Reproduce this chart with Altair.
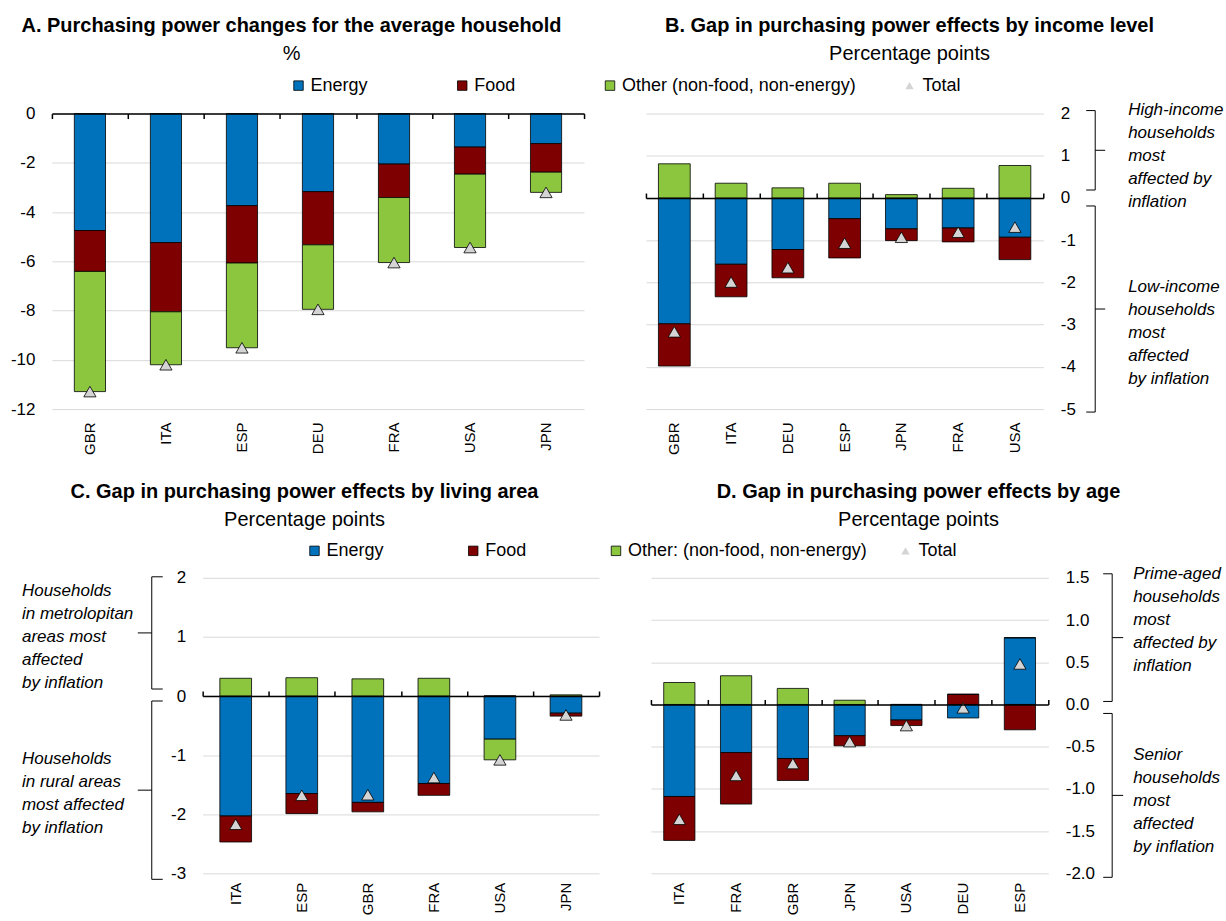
import altair as alt
import pandas as pd

FONT = "Liberation Sans, Arial, sans-serif"
GRID = "#D9D9D9"
TRI = "#D4D4D4"
COLORS = ["#0072BC", "#7F0000", "#8CC63F"]

LABELS_AB = ["Energy", "Food", "Other (non-food, non-energy)"]
LABELS_CD = ["Energy", "Food", "Other: (non-food, non-energy)"]

# Panel A: purchasing power changes for the average household (%)
A_COUNTRIES = ["GBR", "ITA", "ESP", "DEU", "FRA", "USA", "JPN"]
A_ENERGY = [-4.75, -5.24, -3.74, -3.17, -2.05, -1.36, -1.22]
A_FOOD = [-1.66, -2.81, -2.33, -2.16, -1.36, -1.10, -1.16]
A_OTHER = [-4.88, -2.15, -3.44, -2.62, -2.64, -2.98, -0.82]
A_TOTAL = [-11.29, -10.20, -9.51, -7.95, -6.05, -5.44, -3.20]
A_TICKS = [-12, -10, -8, -6, -4, -2, 0]

# Panel B: gap by income level (pp)
B_COUNTRIES = ["GBR", "ITA", "DEU", "ESP", "JPN", "FRA", "USA"]
B_ENERGY = [-2.98, -1.57, -1.22, -0.49, -0.73, -0.71, -0.93]
B_FOOD = [-1.00, -0.77, -0.67, -0.93, -0.28, -0.33, -0.53]
B_OTHER = [0.81, 0.35, 0.24, 0.35, 0.08, 0.23, 0.77]
B_TOTAL = [-3.17, -1.99, -1.65, -1.07, -0.93, -0.81, -0.69]
B_TICKS = [-5, -4, -3, -2, -1, 0, 1, 2]

# Panel C: gap by living area (pp)
C_COUNTRIES = ["ITA", "ESP", "GBR", "FRA", "USA", "JPN"]
C_ENERGY = [-2.03, -1.65, -1.80, -1.48, -0.73, -0.29]
C_FOOD = [-0.44, -0.34, -0.16, -0.20, 0.0, -0.05]
C_OTHER = [0.30, 0.31, 0.29, 0.30, -0.35, 0.02]
C_TOTAL = [-2.17, -1.68, -1.67, -1.38, -1.08, -0.32]
C_TICKS = [-3, -2, -1, 0, 1, 2]

# Panel D: gap by age (pp)
D_COUNTRIES = ["ITA", "FRA", "GBR", "JPN", "USA", "DEU", "ESP"]
D_ENERGY = [-1.09, -0.57, -0.64, -0.37, -0.185, -0.16, 0.79]
D_FOOD = [-0.52, -0.61, -0.26, -0.12, -0.065, 0.12, -0.30]
D_OTHER = [0.26, 0.34, 0.19, 0.05, 0.0, 0.0, 0.0]
D_TOTAL = [-1.36, -0.84, -0.70, -0.44, -0.25, -0.04, 0.48]
D_TICKS = [-2.0, -1.5, -1.0, -0.5, 0.0, 0.5, 1.0, 1.5]

B_NOTES = [["High-income", "households", "most", "affected by", "inflation"],
           ["Low-income", "households", "most", "affected", "by inflation"]]
C_NOTES = [["Households", "in metrolopitan", "areas most", "affected", "by inflation"],
           ["Households", "in rural areas", "most  affected", "by inflation"]]
D_NOTES = [["Prime-aged", "households", "most", "affected by", "inflation"],
           ["Senior", "households", "most", "affected", "by inflation"]]

LINE_H = 23


def long_frame(countries, energy, food, other, labels):
    rows = []
    for i, c in enumerate(countries):
        for k, vals in enumerate([energy, food, other]):
            rows.append({"country": c, "component": labels[k], "order": k, "value": vals[i]})
    return pd.DataFrame(rows)


DUMMY = pd.DataFrame({"_": [0]})


def rule(**kw):
    return alt.Chart(DUMMY).mark_rule(color="black", strokeWidth=1, **kw)


def bracket(top, bottom, top_off, bot_off, xv, xe, xn):
    mid = (top + bottom) / 2
    return [
        rule(yOffset=top_off, y2Offset=bot_off).encode(
            x=alt.value(xv), y=alt.YDatum(top, title=None), y2=alt.Y2Datum(bottom)),
        rule(yOffset=top_off).encode(
            x=alt.value(xe), x2=alt.value(xv), y=alt.YDatum(top, title=None)),
        rule(yOffset=bot_off).encode(
            x=alt.value(xe), x2=alt.value(xv), y=alt.YDatum(bottom, title=None)),
        rule(yOffset=(top_off + bot_off) / 2).encode(
            x=alt.value(xv), x2=alt.value(xn), y=alt.YDatum(mid, title=None)),
    ]


def note(lines, yval, xt):
    # centre the multi-line block on yval
    return alt.Chart(DUMMY).mark_text(
        align="left", baseline="middle", font=FONT, fontSize=17, fontStyle="italic",
        lineHeight=LINE_H, color="black", text=lines, dy=-(len(lines) - 1) * LINE_H / 2,
    ).encode(x=alt.value(xt), y=alt.YDatum(yval, title=None))


def panel(countries, energy, food, other, total, labels, width, height, domain, ticks, fmt,
          y_orient, band, title, subtitle, title_dx, title_off, zero_orient, color_legend,
          total_legend, extra_layers, xlab_pad):
    df = long_frame(countries, energy, food, other, labels)
    tf = pd.DataFrame({"country": countries, "value": total, "series": ["Total"] * len(countries)})
    xscale = alt.Scale(paddingInner=0, paddingOuter=0)
    yscale = alt.Scale(domain=domain, nice=False)
    yaxis = alt.Axis(orient=y_orient, values=ticks, title=None, domain=False,
                     labelExpr="replace(format(datum.value, '%s'), '\u2212', '-')" % fmt,
                     ticks=False, grid=True, gridColor=GRID, gridWidth=1, labelFont=FONT,
                     labelFontSize=17, labelColor="black", labelPadding=17)
    if zero_orient == "bottom":
        off = -height
    else:
        off = -height * domain[1] / (domain[1] - domain[0])
    bars = alt.Chart(df).mark_bar(stroke="black", strokeWidth=0.8, width={"band": band}).encode(
        x=alt.X("country:N", sort=countries, scale=xscale,
                axis=alt.Axis(title=None, orient="bottom", labelAngle=-90, domain=False, ticks=False,
                              grid=False, labelFont=FONT, labelFontSize=15, labelColor="black",
                              labelPadding=xlab_pad)),
        y=alt.Y("value:Q", stack="zero", scale=yscale, axis=yaxis),
        color=alt.Color("component:N", scale=alt.Scale(domain=labels, range=COLORS),
                        legend=color_legend),
        order=alt.Order("order:Q"),
    )
    tri = alt.Chart(tf).mark_point(filled=False, fill=TRI, fillOpacity=1, stroke="black",
                                   strokeWidth=0.8, size=150, opacity=1).encode(
        x=alt.X("country:N", sort=countries, scale=xscale,
                axis=alt.Axis(orient=zero_orient, offset=off, labels=False, title=None, domain=True,
                              domainColor="black", domainWidth=1.5, ticks=True, tickColor="black",
                              tickWidth=1.5, tickSize=5, tickBand="extent", grid=False, zindex=1)),
        y=alt.Y("value:Q", scale=yscale, axis=yaxis),
        shape=alt.Shape("series:N", scale=alt.Scale(domain=["Total"], range=["triangle-up"]),
                        legend=total_legend),
    )
    layers = [bars, tri] + extra_layers
    return alt.layer(*layers).resolve_axis(x="independent").properties(
        width=width, height=height,
        title=alt.TitleParams(text=title, subtitle=subtitle, anchor="middle", frame="group",
                              dx=title_dx, offset=title_off, font=FONT, fontSize=20,
                              fontWeight="bold", color="black", subtitleFont=FONT,
                              subtitleFontSize=20, subtitleColor="black", subtitlePadding=8),
    )


def color_legend(x, y, pad):
    return alt.Legend(orient="none", legendX=x, legendY=y, direction="horizontal", title=None,
                      symbolType="square", symbolSize=90, symbolStrokeColor="black",
                      symbolStrokeWidth=0.8, labelFont=FONT, labelFontSize=18, labelLimit=400,
                      labelColor="black", columnPadding=pad, labelOffset=3, padding=0)


def total_legend(x, y):
    return alt.Legend(orient="none", legendX=x, legendY=y, direction="horizontal", title=None,
                      symbolType="triangle-up", symbolSize=70, symbolFillColor="white",
                      symbolStrokeColor="black", symbolStrokeWidth=0.8, labelFont=FONT,
                      labelFontSize=18, labelColor="black", labelOffset=4, padding=0)


H = 296
WA, WB, WC, WD = 533, 398, 397, 398

chart_a = panel(A_COUNTRIES, A_ENERGY, A_FOOD, A_OTHER, A_TOTAL, LABELS_AB, WA, H, [-12, 0],
                A_TICKS, "d", "left", 0.41,
                "A. Purchasing power changes for the average household", "%", -26.5, 13,
                "bottom", color_legend(238, -37, 85), None, [], 13)

b_extra = (bracket(2, 0, -3, -8, WB + 52, WB + 43, WB + 62)
           + bracket(0, -5, 8, 3, WB + 52, WB + 43, WB + 62)
           + [note(B_NOTES[0], 1.0, WB + 85), note(B_NOTES[1], -3.2, WB + 85)])
chart_b = panel(B_COUNTRIES, B_ENERGY, B_FOOD, B_OTHER, B_TOTAL, LABELS_AB, WB, H, [-5, 2],
                B_TICKS, "d", "right", 0.56,
                "B. Gap in purchasing power effects by income level", "Percentage points", 65, 13,
                "top", None, total_legend(255, -37), b_extra, 13)

c_extra = (bracket(2, 0, -1, -7, -51, -40, -65)
           + bracket(0, -3, 5, 6, -51, -40, -65)
           + [note(C_NOTES[0], 1.0, -181), note(C_NOTES[1], -1.65, -181)])
chart_c = panel(C_COUNTRIES, C_ENERGY, C_FOOD, C_OTHER, C_TOTAL, LABELS_CD, WC, H, [-3, 2],
                C_TICKS, "d", "left", 0.48,
                "C. Gap in purchasing power effects by living area", "Percentage points", -96.5, 12,
                "top", color_legend(103, -36, 80), None, c_extra, 9)

d_extra = (bracket(1.5, 0, -4, -3, WD + 64, WD + 55, WD + 75)
           + bracket(0, -2, 9, 4, WD + 64, WD + 55, WD + 75)
           + [note(D_NOTES[0], 1.0, WD + 85), note(D_NOTES[1], -1.14, WD + 85)])
chart_d = panel(D_COUNTRIES, D_ENERGY, D_FOOD, D_OTHER, D_TOTAL, LABELS_CD, WD, H, [-2, 1.5],
                D_TICKS, ".1f", "right", 0.55,
                "D. Gap in purchasing power effects by age", "Percentage points", 69, 12,
                "top", None, total_legend(246, -36), d_extra, 9)

spacer = alt.Chart(DUMMY).mark_point(opacity=0).encode(
    x=alt.value(0), y=alt.value(0)).properties(width=99, height=20)

row1 = alt.hconcat(chart_a, chart_b, spacing=62, bounds="flush").resolve_scale(
    color="independent", shape="independent")
row2 = alt.hconcat(spacer, chart_c, chart_d, spacing=52, bounds="flush").resolve_scale(
    color="independent", shape="independent")

chart = alt.vconcat(row1, row2, spacing=27).resolve_scale(
    color="independent", shape="independent").properties(
    padding={"left": 10, "top": 15, "right": 2, "bottom": 0},
    background="white",
).configure_view(stroke=None)

chart.save("out.html", embed_options={"renderer": "svg", "actions": False})
